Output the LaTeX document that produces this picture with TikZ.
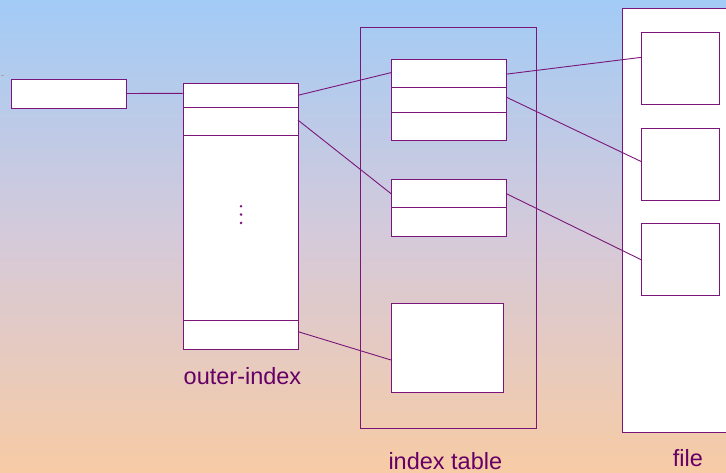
\documentclass[tikz,border=0pt]{standalone}
\usepackage{fontspec}
\setmainfont{Liberation Sans}
\usetikzlibrary{calc}
\definecolor{pline}{RGB}{122,22,122}
\definecolor{ptext}{RGB}{102,0,102}
\definecolor{bgtop}{RGB}{162,203,246}
\definecolor{bgmid}{RGB}{213,202,218}
\definecolor{bgbot}{RGB}{247,203,165}
\tikzset{
  cell/.style={draw=pline, fill=white, line width=1pt, inner sep=0pt, outer sep=0pt, anchor=north west},
  frame/.style={draw=pline, line width=1pt, inner sep=0pt, outer sep=0pt, anchor=north west},
  link/.style={draw=pline, line width=0.9pt},
  lbl/.style={text=ptext, font=\fontsize{23.5}{26}\selectfont, inner sep=0pt, anchor=base west},
}
\begin{document}
\begin{tikzpicture}[x=1pt,y=-1pt]
\useasboundingbox (0,0) rectangle (726,473);
\shade[top color=bgtop, bottom color=bgbot, middle color=bgmid] (0,0) rectangle (726,473);
% tiny marks
\draw[gray!70, line width=0.6pt] (1,75) -- (4,75);
% pointer box
\node[cell, minimum width=115pt, minimum height=29pt] (ptr) at (11,80) {};
% outer index
\node[cell, minimum width=115pt, minimum height=24pt] (o1) at (183,83.3) {};
\node[cell, minimum width=115pt, minimum height=28.7pt] (o2) at (183,107.3) {};
\node[cell, minimum width=115pt, minimum height=184.3pt] (om) at (183,136) {};
\node[cell, minimum width=115pt, minimum height=28.7pt] (o3) at (183,320.3) {};
\foreach \yy [count=\i] in {206.3,214.6,222.9} \fill[pline] (241,\yy) circle (1.4pt);
% index table
\node[frame, minimum width=176.3pt, minimum height=401pt] (itab) at (360,27.3) {};
\node[cell, minimum width=115.3pt, minimum height=28.7pt] (a1) at (391,59.3) {};
\node[cell, minimum width=115.3pt, minimum height=24.3pt] (a2) at (391,88) {};
\node[cell, minimum width=115.3pt, minimum height=28.7pt] (a3) at (391,112.3) {};
\node[cell, minimum width=115.3pt, minimum height=28.7pt] (b1) at (391,179.3) {};
\node[cell, minimum width=115.3pt, minimum height=29pt] (b2) at (391,208) {};
\node[cell, minimum width=112pt, minimum height=88pt] (c) at (391,304) {};
% file
\node[cell, minimum width=130pt, minimum height=424pt] (file) at (622.7,8.3) {};
\node[cell, minimum width=77.3pt, minimum height=72pt] (f1) at (641.7,32.3) {};
\node[cell, minimum width=77.3pt, minimum height=72pt] (f2) at (641.7,128.3) {};
\node[cell, minimum width=77.3pt, minimum height=72pt] (f3) at (641.7,224) {};
% connectors
\draw[link] ([yshift=1pt]ptr.east) -- ([yshift=2pt]o1.west);
\draw[link] (o1.east) -- ([yshift=1pt]a1.west);
\draw[link] ([yshift=1.5pt]o2.east) -- (b1.west);
\draw[link] ([yshift=3pt]o3.east) -- ([yshift=-12pt]c.west);
\draw[link] ([yshift=-0.5pt]a1.east) -- ([yshift=11pt]f1.west);
\draw[link] ([yshift=3pt]a2.east) -- ([yshift=2.5pt]f2.west);
\draw[link] (b1.east) -- (f3.west);
% labels
\node[lbl] (lo) at (183.5,384.3) {outer-index};
\node[lbl] (li) at (388.3,469) {index table};
\node[lbl] (lf) at (672.7,466.7) {file};
\end{tikzpicture}
\end{document}
